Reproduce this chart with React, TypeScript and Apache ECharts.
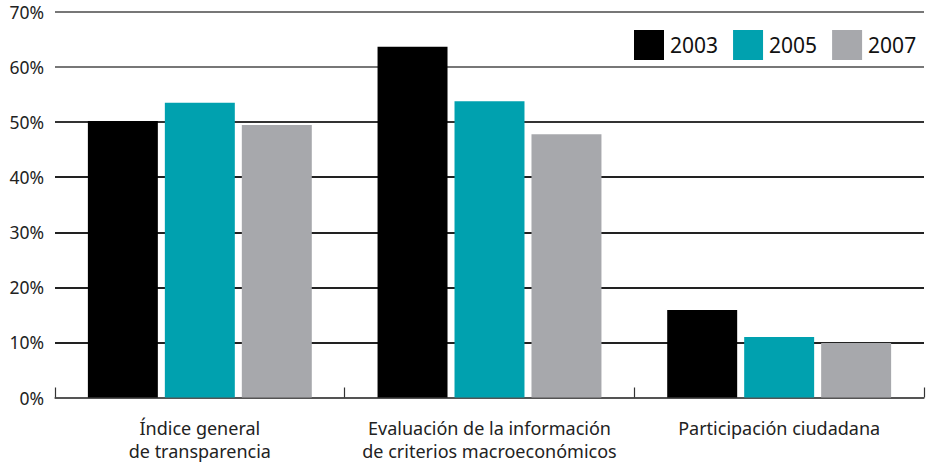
import React, { useEffect, useRef } from "react";
import * as echarts from "echarts";

const categories = [
  "Índice general\nde transparencia",
  "Evaluación de la información\nde criterios macroeconómicos",
  "Participación ciudadana",
];
const years = ["2003", "2005", "2007"];
const values2003 = [50.2, 63.7, 15.9];
const values2005 = [53.5, 53.8, 11.0];
const values2007 = [49.5, 47.8, 9.9];
const colors = ["#000000", "#00a1af", "#a7a8ac"];

export default function App() {
  const ref = useRef<HTMLDivElement>(null);
  useEffect(() => {
    const chart = echarts.init(ref.current!, null, { renderer: "svg" });
    const font = "'Noto Sans', 'Open Sans', sans-serif";
    const seriesData = [values2003, values2005, values2007];
    chart.setOption({
      animation: false,
      textStyle: { fontFamily: font },
      grid: { left: 55, right: 4, top: 12, bottom: 66.5, containLabel: false },
      legend: {
        top: 25,
        left: 629,
        itemWidth: 30,
        itemHeight: 30,
        itemGap: 15,
        icon: "rect",
        textStyle: { fontSize: 21, color: "#111", fontFamily: font, padding: [0, 0, 0, 1] },
        data: years,
      },
      xAxis: {
        type: "category",
        data: categories,
        axisLine: { show: true, lineStyle: { color: "#555", width: 1.5 } },
        axisTick: { show: true, inside: true, length: 10, lineStyle: { color: "#333", width: 1.2 } },
        axisLabel: {
          interval: 0,
          fontSize: 18,
          color: "#222",
          lineHeight: 23,
          margin: 19,
          fontFamily: font,
        },
      },
      yAxis: {
        type: "value",
        min: 0,
        max: 70,
        interval: 10,
        axisLine: { show: false },
        axisTick: { show: false },
        axisLabel: {
          formatter: "{value}%",
          fontSize: 17.5,
          color: "#222",
          margin: 11,
          fontFamily: font,
        },
        splitLine: {
          show: true,
          lineStyle: {
            color: ["#555", "#222", "#222", "#222", "#222", "#333", "#777", "#777"],
            width: 1.8,
          },
        },
      },
      series: years.map((y, i) => ({
        name: y,
        type: "bar",
        data: seriesData[i],
        itemStyle: { color: colors[i] },
        barGap: "10%",
        barCategoryGap: "22.7%",
      })),
    });
    return () => chart.dispose();
  }, []);
  return (
    <div
      ref={ref}
      style={{ position: "absolute", left: 0, top: 0, width: 928, height: 464 }}
    />
  );
}
